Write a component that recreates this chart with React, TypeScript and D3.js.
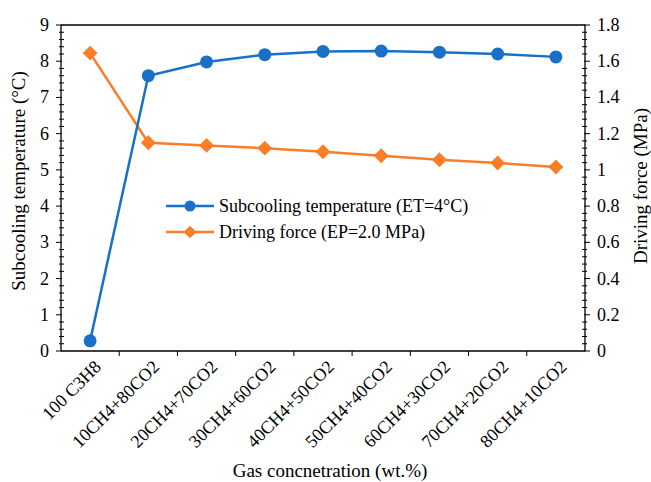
import * as React from 'react'
import { useEffect, useRef } from 'react'
import * as d3 from 'd3'

const categories = [
  '100 C3H8',
  '10CH4+80CO2',
  '20CH4+70CO2',
  '30CH4+60CO2',
  '40CH4+50CO2',
  '50CH4+40CO2',
  '60CH4+30CO2',
  '70CH4+20CO2',
  '80CH4+10CO2',
]
const subcooling = [0.28, 7.6, 7.98, 8.18, 8.27, 8.28, 8.25, 8.2, 8.12]
const drivingForce = [1.645, 1.15, 1.135, 1.12, 1.1, 1.078, 1.056, 1.038, 1.016]
const leftTicks = [0, 1, 2, 3, 4, 5, 6, 7, 8, 9]
const rightTicks = [0, 0.2, 0.4, 0.6, 0.8, 1, 1.2, 1.4, 1.6, 1.8]

const BLUE = '#1870c8'
const ORANGE = '#fb7d25'
const FONT = "'Times New Roman', 'Liberation Serif', 'DejaVu Serif', serif"

export default function App() {
  const svgRef = useRef<SVGSVGElement>(null)
  const width = 651
  const height = 482

  useEffect(() => {
    if (!svgRef.current) return
    const svg = d3.select(svgRef.current)
    svg.selectAll('*').remove()

    const m = { left: 61, right: 585, top: 25, bottom: 351 }

    const x = d3.scaleBand<string>().domain(categories).range([m.left, m.right])
    const yL = d3.scaleLinear().domain([0, 9]).range([m.bottom, m.top])
    const yR = d3.scaleLinear().domain([0, 1.8]).range([m.bottom, m.top])

    const g = svg.append('g')

    // top border
    g.append('line')
      .attr('x1', m.left).attr('x2', m.right)
      .attr('y1', m.top).attr('y2', m.top)
      .attr('stroke', '#000').attr('stroke-width', 1.3)

    // left axis
    g.append('line')
      .attr('x1', m.left).attr('x2', m.left)
      .attr('y1', m.top).attr('y2', m.bottom)
      .attr('stroke', '#000').attr('stroke-width', 1.3)
    d3.range(0, 9.001, 0.2).forEach(v => {
      const major = Math.abs(v - Math.round(v)) < 1e-6
      g.append('line')
        .attr('x1', m.left - (major ? 5 : 2)).attr('x2', m.left + (major ? 1 : 3))
        .attr('y1', yL(v)).attr('y2', yL(v))
        .attr('stroke', '#000').attr('stroke-width', 1)
    })
    leftTicks.forEach(v => {
      g.append('text')
        .attr('x', m.left - 12).attr('y', yL(v) + 6)
        .attr('text-anchor', 'end')
        .attr('font-size', 18)
        .text(v)
    })

    // right axis
    g.append('line')
      .attr('x1', m.right).attr('x2', m.right)
      .attr('y1', m.top).attr('y2', m.bottom)
      .attr('stroke', '#000').attr('stroke-width', 1.3)
    d3.range(0, 1.8001, 0.04).forEach(v => {
      const major = Math.abs(v / 0.2 - Math.round(v / 0.2)) < 1e-6
      g.append('line')
        .attr('x1', m.right - (major ? 1 : 3)).attr('x2', m.right + (major ? 5 : 2))
        .attr('y1', yR(v)).attr('y2', yR(v))
        .attr('stroke', '#000').attr('stroke-width', 1)
    })
    rightTicks.forEach(v => {
      g.append('text')
        .attr('x', m.right + 12).attr('y', yR(v) + 6)
        .attr('text-anchor', 'start')
        .attr('font-size', 18)
        .text(d3.format('~g')(v))
    })

    // bottom axis
    g.append('line')
      .attr('x1', m.left).attr('x2', m.right)
      .attr('y1', m.bottom).attr('y2', m.bottom)
      .attr('stroke', '#000').attr('stroke-width', 1.3)
    categories.forEach((c, i) => {
      const bx = x(c)!
      if (i > 0) {
        g.append('line')
          .attr('x1', bx).attr('x2', bx)
          .attr('y1', m.bottom).attr('y2', m.bottom + 5)
          .attr('stroke', '#000').attr('stroke-width', 1)
      }
      const cx = x(c)! + x.bandwidth() / 2
      g.append('text')
        .attr('transform', `translate(${cx + 12},${m.bottom + 17}) rotate(-45)`)
        .attr('text-anchor', 'end')
        .attr('font-size', 18)
        .text(c)
    })

    // axis titles
    g.append('text')
      .attr('transform', `translate(25,181) rotate(-90)`)
      .attr('text-anchor', 'middle')
      .attr('font-size', 19)
      .text('Subcooling temperature (°C)')
    g.append('text')
      .attr('transform', `translate(647,186) rotate(-90)`)
      .attr('text-anchor', 'middle')
      .attr('font-size', 19)
      .text('Driving force (MPa)')
    g.append('text')
      .attr('x', 330).attr('y', 477)
      .attr('text-anchor', 'middle')
      .attr('font-size', 19)
      .text('Gas concnetration (wt.%)')

    g.selectAll('text').style('font-family', FONT)

    const cxOf = (i: number) => x(categories[i])! + x.bandwidth() / 2

    // driving force series
    const lineR = d3.line<number>().x((_, i) => cxOf(i)).y(d => yR(d))
    g.append('path')
      .attr('d', lineR(drivingForce))
      .attr('fill', 'none').attr('stroke', ORANGE).attr('stroke-width', 2.5)
    const diamond = d3.symbol().type(d3.symbolDiamond2).size(140)
    drivingForce.forEach((v, i) => {
      g.append('path')
        .attr('d', diamond()!)
        .attr('transform', `translate(${cxOf(i)},${yR(v)})`)
        .attr('fill', ORANGE)
    })

    // subcooling series
    const lineL = d3.line<number>().x((_, i) => cxOf(i)).y(d => yL(d))
    g.append('path')
      .attr('d', lineL(subcooling))
      .attr('fill', 'none').attr('stroke', BLUE).attr('stroke-width', 2.5)
    subcooling.forEach((v, i) => {
      g.append('circle')
        .attr('cx', cxOf(i)).attr('cy', yL(v)).attr('r', 6.5)
        .attr('fill', BLUE)
    })

    // legend
    const lg = svg.append('g').attr('transform', 'translate(166,206)')
    lg.append('line').attr('x1', 0).attr('x2', 48).attr('y1', 0).attr('y2', 0)
      .attr('stroke', BLUE).attr('stroke-width', 2.5)
    lg.append('circle').attr('cx', 24).attr('cy', 0).attr('r', 5.5).attr('fill', BLUE)
    lg.append('text').attr('x', 53).attr('y', 6)
      .attr('font-size', 18)
      .text('Subcooling temperature (ET=4°C)')
    lg.append('line').attr('x1', 0).attr('x2', 48).attr('y1', 26).attr('y2', 26)
      .attr('stroke', ORANGE).attr('stroke-width', 2.5)
    lg.append('path').attr('d', d3.symbol().type(d3.symbolDiamond2).size(100)()!)
      .attr('transform', 'translate(24,26)').attr('fill', ORANGE)
    lg.append('text').attr('x', 53).attr('y', 32)
      .attr('font-size', 18)
      .text('Driving force (EP=2.0 MPa)')
    lg.selectAll('text').style('font-family', FONT)
  }, [])

  return (
    <svg
      ref={svgRef}
      width={width}
      height={height}
      style={{ position: 'absolute', left: 0, top: 0, background: '#fff' }}
    />
  )
}
